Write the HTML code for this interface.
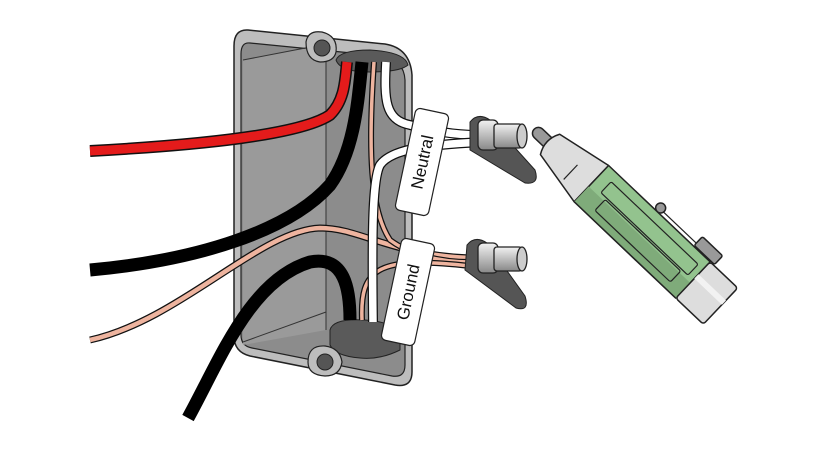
<!DOCTYPE html>
<html><head><meta charset="utf-8"><style>html,body{margin:0;padding:0;background:#fff}svg{display:block}</style></head>
<body>
<svg width="822" height="450" viewBox="0 0 822 450" xmlns="http://www.w3.org/2000/svg" stroke-linejoin="round">
<path d="M248,30 L385,44 Q410,48 412,75 L412,372 Q412,388 395,385 L250,356 Q234,352 234,336 L234,46 Q234,29 248,30 Z" fill="#bdbdbd" stroke="#222" stroke-width="1.5"/>
<path d="M250,43 L382,56 Q404,60 405,80 L405,365 Q405,378 392,376 L252,348 Q241,346 241,335 L241,54 Q241,42 250,43 Z" fill="#8c8c8c" stroke="#222" stroke-width="1.2"/>
<path d="M243,60 L326,45 L326,330 L243,345 Z" fill="#9a9a9a"/>
<line x1="326" y1="56" x2="326" y2="330" stroke="#333" stroke-width="1"/>
<line x1="243" y1="60" x2="326" y2="44" stroke="#333" stroke-width="1"/>
<line x1="243" y1="342" x2="326" y2="312" stroke="#333" stroke-width="1"/>
<path d="M306,42 Q308,30 322,32 Q338,36 336,52 Q334,62 320,62 Q306,60 306,42Z" fill="#bdbdbd" stroke="#222" stroke-width="1.2"/>
<circle cx="322" cy="48" r="8" fill="#555" stroke="#222"/>
<path d="M336,60 Q340,50 370,50 Q405,52 408,65 Q400,72 370,72 Q340,72 336,60Z" fill="#5a5a5a" stroke="#222"/>
<path d="M330,330 Q333,318 365,320 Q395,322 400,335 L400,350 Q380,360 360,358 Q335,356 330,345Z" fill="#5a5a5a" stroke="#222"/>
<path d="M308,362 Q308,345 325,346 Q340,348 342,362 Q340,376 325,376 Q308,375 308,362Z" fill="#bdbdbd" stroke="#222" stroke-width="1.2"/>
<circle cx="325" cy="362" r="8" fill="#555" stroke="#222"/>
<g fill="none" stroke-linecap="butt">
<path d="M90,151 C200,145 300,135 330,115 C345,100 345,80 347,62" stroke="#111" stroke-width="12"/>
<path d="M90,151 C200,145 300,135 330,115 C345,100 345,80 347,62" stroke="#e41b1b" stroke-width="9"/>
<path d="M90,270 C200,260 290,230 330,185 C355,150 358,100 362,62" stroke="#000" stroke-width="13"/>
<path d="M90,340 C180,320 260,230 320,228 C360,228 390,255 470,258" stroke="#111" stroke-width="7"/>
<path d="M90,340 C180,320 260,230 320,228 C360,228 390,255 470,258" stroke="#eeb49f" stroke-width="4.5"/>
<path d="M374,62 C368,150 370,210 390,240 C410,255 440,262 470,262" stroke="#111" stroke-width="6"/>
<path d="M374,62 C368,150 370,210 390,240 C410,255 440,262 470,262" stroke="#eeb49f" stroke-width="3.5"/>
<path d="M362,320 C360,270 375,255 470,266" stroke="#111" stroke-width="6"/>
<path d="M362,320 C360,270 375,255 470,266" stroke="#eeb49f" stroke-width="3.5"/>
<path d="M188,418 C220,360 250,280 310,262 C345,255 350,290 350,320" stroke="#000" stroke-width="13"/>
<path d="M386,62 C384,100 385,120 410,125 C430,130 450,135 480,135" stroke="#111" stroke-width="10"/>
<path d="M386,62 C384,100 385,120 410,125 C430,130 450,135 480,135" stroke="#fff" stroke-width="7.5"/>
<path d="M373,322 C372,240 372,180 380,165 C392,148 430,145 480,142" stroke="#111" stroke-width="10"/>
<path d="M373,322 C372,240 372,180 380,165 C392,148 430,145 480,142" stroke="#fff" stroke-width="7.5"/>
</g>
<path d="M470,122 Q478,112 490,120 L535,170 Q540,185 525,183 L470,150 Z" fill="#555" stroke="#222"/>
<path d="M467,245 Q475,235 487,243 L525,296 Q530,312 516,308 L465,270 Z" fill="#555" stroke="#222"/>
<g transform="translate(422,162) rotate(-78)">
<rect x="-52" y="-17" width="104" height="34" rx="5" fill="#fff" stroke="#222" stroke-width="1.2"/>
<text x="0" y="6" text-anchor="middle" font-family="Liberation Sans, sans-serif" font-size="17" fill="#111">Neutral</text>
</g>
<g transform="translate(408,292) rotate(-78)">
<rect x="-52" y="-17" width="104" height="34" rx="5" fill="#fff" stroke="#222" stroke-width="1.2"/>
<text x="0" y="6" text-anchor="middle" font-family="Liberation Sans, sans-serif" font-size="17" fill="#111">Ground</text>
</g>
<defs><linearGradient id="cg" x1="0" y1="0" x2="0" y2="1"><stop offset="0" stop-color="#f2f2f2"/><stop offset="1" stop-color="#888"/></linearGradient></defs>
<g stroke="#222" stroke-width="1.3">
<rect x="478" y="120" width="20" height="30" rx="5" fill="url(#cg)"/>
<rect x="494" y="124" width="28" height="24" rx="3" fill="url(#cg)"/>
<ellipse cx="522" cy="136" rx="5" ry="12" fill="#ccc"/>
<rect x="478" y="243" width="20" height="30" rx="5" fill="url(#cg)"/>
<rect x="494" y="247" width="28" height="24" rx="3" fill="url(#cg)"/>
<ellipse cx="522" cy="259" rx="5" ry="12" fill="#ccc"/>
</g>
<g transform="translate(537,132) rotate(43.5)" stroke="#222" stroke-width="1.5">
<rect x="-4" y="-6" width="26" height="12" rx="6" fill="#999"/>
<path d="M18,-14 L75,-25 L75,25 L18,14 Q10,0 18,-14Z" fill="#ddd"/>
<line x1="52" y1="-4" x2="52" y2="16" stroke-width="1.2"/>
<line x1="142" y1="-29" x2="210" y2="-29" stroke-width="1.2"/>
<circle cx="142" cy="-30" r="5" fill="#999"/>
<rect x="192" y="-38" width="28" height="12" rx="2" fill="#999"/>
<rect x="75" y="-25" width="140" height="50" fill="#93c38e"/>
<path d="M75,4 L215,4 L215,25 L75,25 Z" fill="#7fab7a" stroke="none"/>
<line x1="75" y1="25" x2="215" y2="25"/>
<rect x="88" y="-15" width="120" height="15" rx="2" fill="none" stroke-width="1.2"/>
<rect x="96" y="2" width="104" height="15" rx="2" fill="none" stroke-width="1.2"/>
<rect x="215" y="-25" width="38" height="50" rx="3" fill="#ddd"/>
<rect x="215" y="-8" width="38" height="6" fill="#f2f2f2" stroke="none"/>
</g>
</svg>
</body></html>
